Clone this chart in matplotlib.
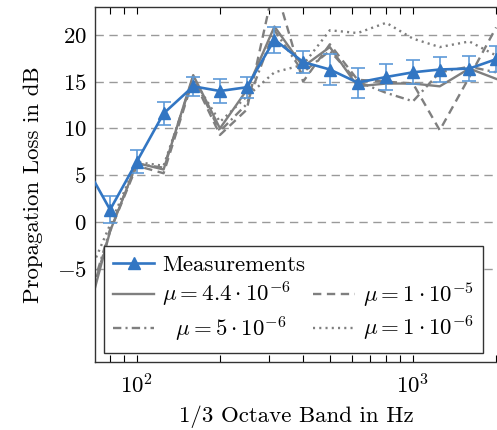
import numpy as np
import matplotlib
matplotlib.use("Agg")
import matplotlib.pyplot as plt
from matplotlib.lines import Line2D
from matplotlib.ticker import LogLocator, LogFormatterMathtext, NullFormatter

plt.rcParams["font.family"] = "serif"
plt.rcParams["font.serif"] = ["cmr10"]
plt.rcParams["mathtext.fontset"] = "cm"
plt.rcParams["axes.formatter.use_mathtext"] = True
plt.rcParams["font.size"] = 16.5
plt.rcParams["lines.scale_dashes"] = False

# 1/3 octave band centre frequencies
freq = [63, 80, 100, 125, 160, 200, 250, 315, 400, 500, 630, 800, 1000, 1250, 1600, 2000]

# measured propagation loss and its spread
meas = [6.8, 1.3, 6.45, 11.6, 14.5, 14.0, 14.4, 19.5, 17.1, 16.3, 14.9, 15.5, 16.0, 16.3, 16.4, 17.4]
meas_err = [1.4, 1.45, 1.25, 1.2, 1.0, 1.3, 1.1, 1.4, 1.2, 1.7, 1.6, 1.4, 1.3, 1.3, 1.35, 1.4]

# simulated loss for different flow resistivity values
sim_44e6 = [-12.5, -1.0, 6.3, 5.6, 15.7, 10.0, 14.1, 20.9, 16.6, 18.7, 14.5, 14.8, 14.8, 14.5, 16.4, 15.3]
sim_1e5 = [-11.5, -1.0, 6.0, 5.2, 15.3, 9.3, 12.0, 25.5, 15.0, 19.0, 15.2, 15.0, 14.8, 9.8, 15.5, 20.8]
sim_5e6 = [-11.0, -0.8, 6.2, 5.8, 15.5, 9.7, 12.6, 20.5, 16.0, 18.3, 15.0, 13.8, 12.9, 16.0, 16.6, 16.0]
sim_1e6 = [-7.5, -0.3, 6.4, 6.0, 15.3, 10.7, 13.4, 16.0, 16.8, 20.5, 20.2, 21.3, 19.6, 18.7, 19.3, 17.8]

blue = "#3276c3"
light_blue = "#5d9ad8"
grey = "#7f7f7f"

fig = plt.figure(figsize=(4.97, 4.30), dpi=100)
ax = fig.add_axes([0.191, 0.158, 0.812, 0.826])

ax.plot(freq, sim_44e6, color=grey, lw=1.7, linestyle="-")
ax.plot(freq, sim_1e5, color=grey, lw=1.7, linestyle=(0, (6, 4)))
ax.plot(freq, sim_5e6, color=grey, lw=1.7, linestyle=(0, (6, 3, 1.5, 3)))
ax.plot(freq, sim_1e6, color=grey, lw=1.7, linestyle=(0, (1.5, 3)))

ax.errorbar(freq, meas, yerr=meas_err, color=blue, ecolor=light_blue, elinewidth=1.2,
            capsize=5, capthick=1.2, lw=1.9, marker="^", markersize=8, zorder=5)

ax.set_xscale("log")
ax.set_xlim(70.5, 2040)
ax.set_ylim(-15, 23)
ax.set_yticks([-5, 0, 5, 10, 15, 20])
ax.xaxis.set_major_locator(LogLocator(base=10))
ax.xaxis.set_major_formatter(LogFormatterMathtext())
ax.xaxis.set_minor_locator(LogLocator(base=10, subs=np.arange(2, 10)))
ax.xaxis.set_minor_formatter(NullFormatter())
ax.tick_params(axis="x", which="both", direction="in", top=True, length=5, width=0.8, pad=8)
ax.tick_params(axis="y", direction="in", length=0, pad=6)

ax.yaxis.grid(True, color="#9a9a9a", lw=1.0, linestyle=(0, (6, 4)))
ax.set_axisbelow(True)
for s in ax.spines.values():
    s.set_color("#333333")
    s.set_linewidth(1.0)

ax.set_xlabel("1/3 Octave Band in Hz", labelpad=6)
ax.set_ylabel("Propagation Loss in dB", labelpad=10)

handles = [
    Line2D([], [], color=blue, lw=1.9, marker="^", markersize=8),
    Line2D([], [], color=grey, lw=1.7, linestyle="-"),
    Line2D([], [], color=grey, lw=1.7, linestyle=(0, (6, 3, 1.5, 3))),
    Line2D([], [], linestyle="none"),
    Line2D([], [], color=grey, lw=1.7, linestyle=(0, (6, 4))),
    Line2D([], [], color=grey, lw=1.7, linestyle=(0, (1.5, 3))),
]
# extra space after the last column pushes the frame past the right edge
labels = [
    "Measurements",
    r"$\mu = 4.4\cdot10^{-6}$",
    r"$\ \ \mu = 5\cdot10^{-6}$",
    " ",
    r"$\mu = 1\cdot10^{-5}\hspace{1.2}$",
    r"$\mu = 1\cdot10^{-6}$",
]
leg = ax.legend(handles, labels, ncol=2, loc="lower left", bbox_to_anchor=(0.022, 0.026),
                frameon=True, fancybox=False, framealpha=1, edgecolor="#333333",
                handlelength=1.8, handletextpad=0.35, columnspacing=0.35,
                borderpad=0.4, labelspacing=0.22, borderaxespad=0)
leg.get_frame().set_linewidth(1.0)
leg.set_zorder(10)

fig.savefig("out.png", dpi=100)
